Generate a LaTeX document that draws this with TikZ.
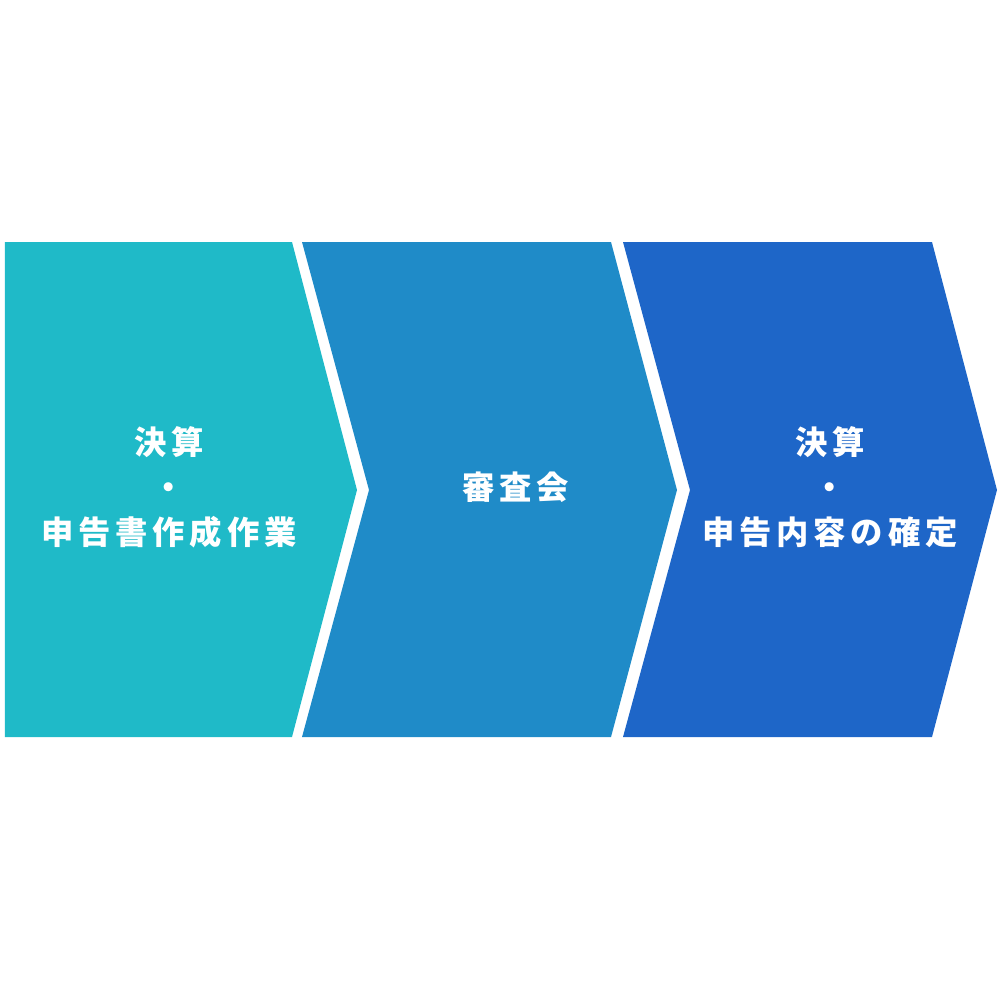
\documentclass[tikz,border=0pt]{standalone}
\usepackage{fontspec}
\newfontfamily\jpfont{Noto Sans CJK JP}[LetterSpace=15]
\definecolor{stepA}{RGB}{31,186,200}
\definecolor{stepB}{RGB}{31,139,200}
\definecolor{stepC}{RGB}{30,102,200}
\tikzset{
  chev/.style = {draw=none},
  steptext/.style = {inner sep=0pt, text=white, align=center,
    font=\jpfont\bfseries\fontsize{9.2}{12.8}\selectfont},
}

\begin{document}
\begin{tikzpicture}[x=0.1mm, y=-0.1mm]
    \useasboundingbox (0,0) rectangle (1000,1000);
    \fill [chev, stepA] (5,242) -- (292,242) -- (357,490) -- (292,737) -- (5,737) -- cycle;
    \fill [chev, stepB] (302,242) -- (611,242) -- (677,490) -- (611,737) -- (302,737) -- (369,490) -- cycle;
    \fill [chev, stepC] (623,242) -- (932,242) -- (997,490) -- (932,737) -- (623,737) -- (690,490) -- cycle;

    \node (s1) [steptext] at (169,487) {決算\\・\\申告書作成作業};
    \node (s2) [steptext] at (516,487) {審査会};
    \node (s3) [steptext] at (830,487) {決算\\・\\申告内容の確定};
\end{tikzpicture}
\end{document}
